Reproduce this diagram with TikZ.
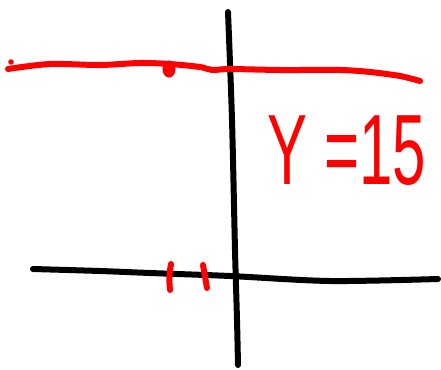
\documentclass[tikz,border=0pt]{standalone}
\usepackage{fontspec}
\setmainfont{Liberation Sans}
\usetikzlibrary{shapes.geometric}
\begin{document}
\begin{tikzpicture}[x=1pt,y=-1pt,
  pen/.style={line width=6pt,line cap=round,line join=round},
  blackpen/.style={pen,black},
  redpen/.style={pen,red}]
\useasboundingbox (0,0) rectangle (441,369);
% axes
\draw[blackpen] plot[smooth] coordinates {(228,12) (232,120) (235,250) (237,320) (238,365)};
\draw[blackpen] plot[smooth] coordinates {(33,269) (100,271) (150,273) (230,276) (330,281) (438,279)};
% ticks
\coordinate (t1a) at (171,264); \coordinate (t1b) at (170,290);
\coordinate (t2a) at (203,265); \coordinate (t2b) at (207,288);
\draw[redpen] (t1a) to[bend right=8] (t1b);
\draw[redpen] (t2a) -- (t2b);
% red line y=15
\draw[redpen] plot[smooth] coordinates {(8,69) (50,64) (100,65) (140,63) (170,64) (200,67) (212,70) (230,69) (280,70) (340,70) (370,72) (400,76) (420,81)};
\fill[red] (11,62) circle (2.8pt);
\node[fill=red,draw=red,line width=2pt,ellipse,inner sep=0pt,minimum width=11pt,minimum height=15pt] (dot) at (169,69) {};
% label
\node[red,font=\fontsize{100}{100}\selectfont,xscale=0.6,inner sep=0pt,anchor=center] (lbl) at (347,151) {Y =15};
\end{tikzpicture}
\end{document}
